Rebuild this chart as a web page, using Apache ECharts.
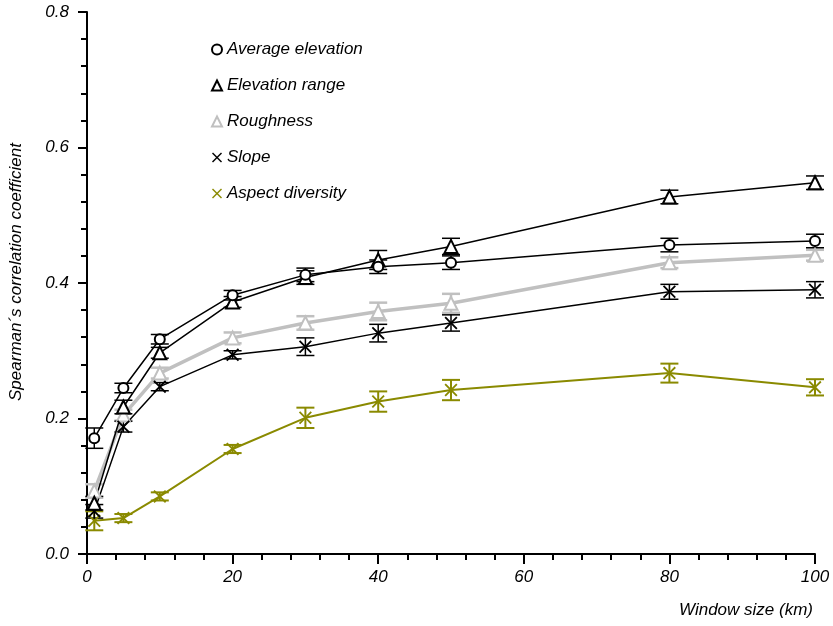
<!DOCTYPE html>
<html>
<head>
<meta charset="utf-8">
<script src="https://cdn.jsdelivr.net/npm/echarts@6/dist/echarts.min.js"></script>
<style>html,body{margin:0;padding:0;background:#fff}#c{width:833px;height:626px}</style>
</head>
<body>
<div id="c"></div>
<script>
const windowSizes = [1, 5, 10, 20, 30, 40, 50, 80, 100];
const avgElevation = [0.171, 0.245, 0.317, 0.382, 0.412, 0.424, 0.430, 0.456, 0.462];
const avgElevationErr = [0.015, 0.007, 0.007, 0.007, 0.010, 0.010, 0.010, 0.010, 0.010];
const elevationRange = [0.075, 0.217, 0.297, 0.372, 0.408, 0.434, 0.454, 0.527, 0.548];
const elevationRangeErr = [0.010, 0.010, 0.008, 0.008, 0.010, 0.014, 0.012, 0.010, 0.010];
const roughness = [0.093, 0.205, 0.267, 0.319, 0.341, 0.358, 0.370, 0.430, 0.441];
const roughnessErr = [0.010, 0.008, 0.008, 0.008, 0.010, 0.013, 0.014, 0.008, 0.008];
const slope = [0.063, 0.188, 0.247, 0.294, 0.306, 0.326, 0.341, 0.387, 0.390];
const slopeErr = [0.010, 0.008, 0.006, 0.006, 0.013, 0.013, 0.012, 0.011, 0.012];
const aspectDiversity = [0.049, 0.053, 0.085, 0.155, 0.201, 0.225, 0.242, 0.267, 0.246];
const aspectDiversityErr = [0.014, 0.006, 0.006, 0.006, 0.015, 0.015, 0.015, 0.014, 0.012];
const yTicks = [0.0, 0.2, 0.4, 0.6, 0.8];
const xTicks = [0, 20, 40, 60, 80, 100];

const FONT = 'Liberation Sans';
const xPath = 'path://M0,1L1,0L5,4L9,0L10,1L6,5L10,9L9,10L5,6L1,10L0,9L4,5Z';

const seriesDefs = [
  {name: 'Aspect diversity', vals: aspectDiversity, err: aspectDiversityErr, color: '#8a8a00', width: 2, symbol: xPath, size: 13, ew: 2},
  {name: 'Roughness', vals: roughness, err: roughnessErr, color: '#c0c0c0', width: 3.5, symbol: 'emptyTriangle', size: 13, ew: 2.5},
  {name: 'Slope', vals: slope, err: slopeErr, color: '#000000', width: 1.5, symbol: xPath, size: 13, ew: 1.5},
  {name: 'Elevation range', vals: elevationRange, err: elevationRangeErr, color: '#000000', width: 1.5, symbol: 'emptyTriangle', size: 13, ew: 1.5},
  {name: 'Average elevation', vals: avgElevation, err: avgElevationErr, color: '#000000', width: 1.5, symbol: 'emptyCircle', size: 10, ew: 1.5}
];

const series = [];
seriesDefs.forEach(function (d) {
  series.push({
    type: 'custom',
    name: d.name + ' err',
    silent: true,
    z: 3,
    data: windowSizes.map(function (x, i) { return [x, d.vals[i] - d.err[i], d.vals[i] + d.err[i]]; }),
    renderItem: function (params, api) {
      const x = api.value(0);
      const lo = api.coord([x, api.value(1)]);
      const hi = api.coord([x, api.value(2)]);
      const hw = 9;
      const st = {stroke: d.color, lineWidth: d.ew};
      return {
        type: 'group',
        children: [
          {type: 'line', shape: {x1: lo[0], y1: lo[1], x2: hi[0], y2: hi[1]}, style: st},
          {type: 'line', shape: {x1: lo[0] - hw, y1: lo[1], x2: lo[0] + hw, y2: lo[1]}, style: st},
          {type: 'line', shape: {x1: hi[0] - hw, y1: hi[1], x2: hi[0] + hw, y2: hi[1]}, style: st}
        ]
      };
    }
  });
  series.push({
    type: 'line',
    name: d.name,
    z: 4,
    data: windowSizes.map(function (x, i) { return [x, d.vals[i]]; }),
    symbol: d.symbol,
    symbolSize: d.size,
    showAllSymbol: true,
    lineStyle: {color: d.color, width: d.width},
    itemStyle: {color: d.color, borderColor: d.color, borderWidth: d.symbol === xPath ? 0 : 1.5},
    emphasis: {disabled: true},
    animation: false
  });
});

const chart = echarts.init(document.getElementById('c'), null, {renderer: 'canvas'});
chart.setOption({
  animation: false,
  backgroundColor: '#ffffff',
  grid: {left: 84, right: 18, top: 12, bottom: 72},
  legend: {
    orient: 'vertical',
    left: 206,
    top: 36,
    itemWidth: 10,
    itemHeight: 10,
    itemGap: 19,
    selectedMode: false,
    textStyle: {fontFamily: FONT, fontStyle: 'italic', fontSize: 17, lineHeight: 17, color: '#000', padding: [0, 0, 0, 0]},
    data: [
      {name: 'Average elevation', icon: 'emptyCircle', itemStyle: {borderWidth: 1.5}},
      {name: 'Elevation range', icon: 'emptyTriangle', itemStyle: {borderWidth: 1.5}},
      {name: 'Roughness', icon: 'emptyTriangle', itemStyle: {borderWidth: 2.5}},
      {name: 'Slope', icon: xPath},
      {name: 'Aspect diversity', icon: xPath}
    ]
  },
  xAxis: {
    type: 'value',
    min: xTicks[0],
    max: xTicks[xTicks.length - 1],
    interval: 20,
    name: 'Window size (km)',
    nameLocation: 'end',
    nameGap: -2,
    nameTextStyle: {fontFamily: FONT, fontStyle: 'italic', fontSize: 17, color: '#000', align: 'right', verticalAlign: 'top', padding: [48, 0, 0, 0]},
    axisLine: {show: true, lineStyle: {color: '#000', width: 2}},
    axisTick: {show: true, length: 10, lineStyle: {color: '#000', width: 2}},
    minorTick: {show: true, splitNumber: 5, length: 6, lineStyle: {color: '#000', width: 2}},
    axisLabel: {fontFamily: FONT, fontStyle: 'italic', fontSize: 17, color: '#000', margin: 15},
    splitLine: {show: false}
  },
  yAxis: {
    type: 'value',
    min: yTicks[0],
    max: yTicks[yTicks.length - 1],
    interval: 0.2,
    name: 'Spearman´s correlation coefficient',
    nameLocation: 'middle',
    nameGap: 62,
    nameRotate: 90,
    nameTextStyle: {fontFamily: FONT, fontStyle: 'italic', fontSize: 17, color: '#000', padding: [0, 0, 0, 22]},
    axisLine: {show: true, lineStyle: {color: '#000', width: 2}},
    axisTick: {show: true, length: 9, lineStyle: {color: '#000', width: 2}},
    minorTick: {show: true, splitNumber: 5, length: 6, lineStyle: {color: '#000', width: 2}},
    axisLabel: {fontFamily: FONT, fontStyle: 'italic', fontSize: 17, color: '#000', margin: 18,
      formatter: function (v) { return v.toFixed(1); }},
    splitLine: {show: false}
  },
  series: series
});
</script>
</body>
</html>
